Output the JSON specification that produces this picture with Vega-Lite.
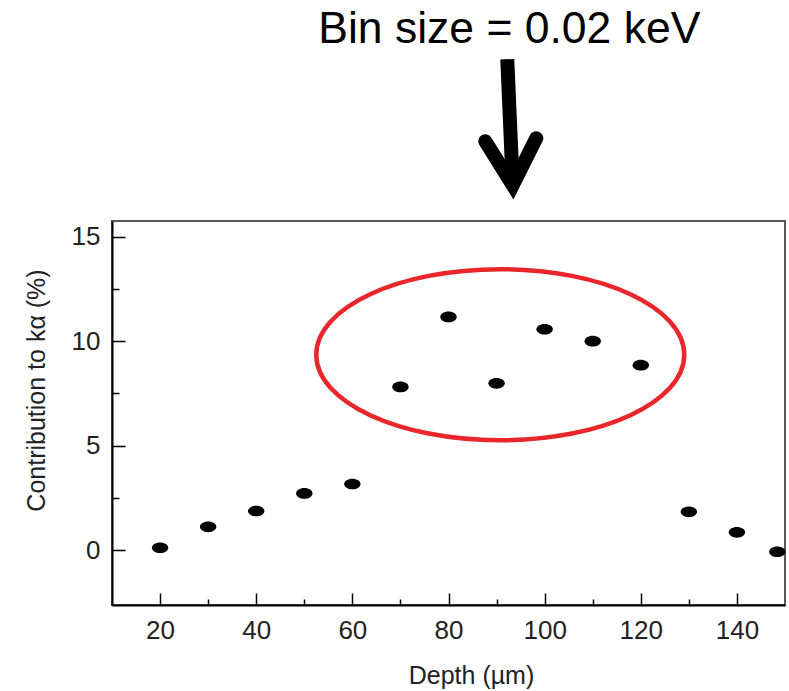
{
  "$schema": "https://vega.github.io/schema/vega-lite/v6.json",
  "width": 673,
  "height": 384,
  "autosize": {"type": "none"},
  "padding": {"left": 112, "top": 221, "right": 4, "bottom": 86},
  "background": "white",
  "config": {
    "font": "Liberation Sans",
    "view": {"stroke": "#5a5a5a", "strokeWidth": 2}
  },
  "datasets": {
    "points": [
      {"depth": 20, "contribution": 0.11},
      {"depth": 30, "contribution": 1.11},
      {"depth": 40, "contribution": 1.87},
      {"depth": 50, "contribution": 2.71},
      {"depth": 60, "contribution": 3.16},
      {"depth": 70, "contribution": 7.81},
      {"depth": 80, "contribution": 11.16},
      {"depth": 90, "contribution": 7.98},
      {"depth": 100, "contribution": 10.57},
      {"depth": 110, "contribution": 10.0},
      {"depth": 120, "contribution": 8.85},
      {"depth": 130, "contribution": 1.83},
      {"depth": 140, "contribution": 0.85},
      {"depth": 148.4, "contribution": -0.08}
    ],
    "highlight": [{"depth": 90.77, "contribution": 9.35}],
    "arrow": [{"depth": 92.85, "contribution": 20.19}],
    "label": [{"depth": 92.65, "contribution": 24.26, "text": "Bin size = 0.02 keV"}]
  },
  "encoding": {
    "x": {
      "field": "depth",
      "type": "quantitative",
      "scale": {"domain": [10, 150], "nice": false, "zero": false},
      "axis": {
        "title": "Depth (µm)",
        "values": [20, 30, 40, 50, 60, 70, 80, 90, 100, 110, 120, 130, 140],
        "labelExpr": "datum.value % 20 === 0 ? datum.label : ''",
        "grid": false,
        "domainColor": "black",
        "domainWidth": 2,
        "tickColor": "black",
        "tickWidth": 1.5,
        "tickSize": {"condition": {"test": "datum.value % 20 === 0", "value": -12}, "value": -6},
        "labelPadding": 24,
        "labelFontSize": 26,
        "labelColor": "#222",
        "titleFontSize": 25,
        "titleFontWeight": "normal",
        "titleColor": "#222",
        "titleX": 359,
        "titleY": 78,
        "titleBaseline": "alphabetic"
      }
    },
    "y": {
      "field": "contribution",
      "type": "quantitative",
      "scale": {"domain": [-2.63, 15.75], "nice": false, "zero": false},
      "axis": {
        "title": "Contribution to kα (%)",
        "values": [0, 2.5, 5, 7.5, 10, 12.5, 15],
        "labelExpr": "datum.value % 5 === 0 ? datum.label : ''",
        "grid": false,
        "domainColor": "black",
        "domainWidth": 2,
        "tickColor": "black",
        "tickWidth": 1.5,
        "tickSize": {"condition": {"test": "datum.value % 5 === 0", "value": -13}, "value": -7},
        "labelPadding": 25,
        "labelFontSize": 26,
        "labelColor": "#222",
        "titleFontSize": 25,
        "titleFontWeight": "normal",
        "titleColor": "#222",
        "titleX": -68,
        "titleY": 169,
        "titleBaseline": "alphabetic"
      }
    }
  },
  "layer": [
    {
      "data": {"name": "points"},
      "mark": {
        "type": "point",
        "shape": "M -1 0 A 1 0.65 0 1 0 1 0 A 1 0.65 0 1 0 -1 0 Z",
        "filled": true,
        "color": "black",
        "opacity": 1,
        "size": 270
      }
    },
    {
      "data": {"name": "highlight"},
      "mark": {
        "type": "point",
        "shape": "M -1 0 A 1 0.465 0 1 0 1 0 A 1 0.465 0 1 0 -1 0 Z",
        "filled": false,
        "stroke": "#e8262b",
        "strokeWidth": 4.5,
        "opacity": 1,
        "size": 135424
      }
    },
    {
      "data": {"name": "arrow"},
      "mark": {
        "type": "point",
        "shape": "M -0.04 -0.92 L 0.033 0.76",
        "filled": false,
        "stroke": "black",
        "strokeWidth": 14,
        "strokeCap": "butt",
        "opacity": 1,
        "size": 22500
      }
    },
    {
      "data": {"name": "arrow"},
      "mark": {
        "type": "point",
        "shape": "M -0.333 0.173 L 0.033 0.76 L 0.347 0.133",
        "filled": false,
        "stroke": "black",
        "strokeWidth": 14,
        "strokeCap": "round",
        "strokeJoin": "miter",
        "opacity": 1,
        "size": 22500
      }
    },
    {
      "data": {"name": "label"},
      "mark": {
        "type": "text",
        "font": "Liberation Sans",
        "fontSize": 44.5,
        "color": "black",
        "align": "center",
        "baseline": "alphabetic"
      },
      "encoding": {
        "text": {"field": "text", "type": "nominal"}
      }
    }
  ]
}
